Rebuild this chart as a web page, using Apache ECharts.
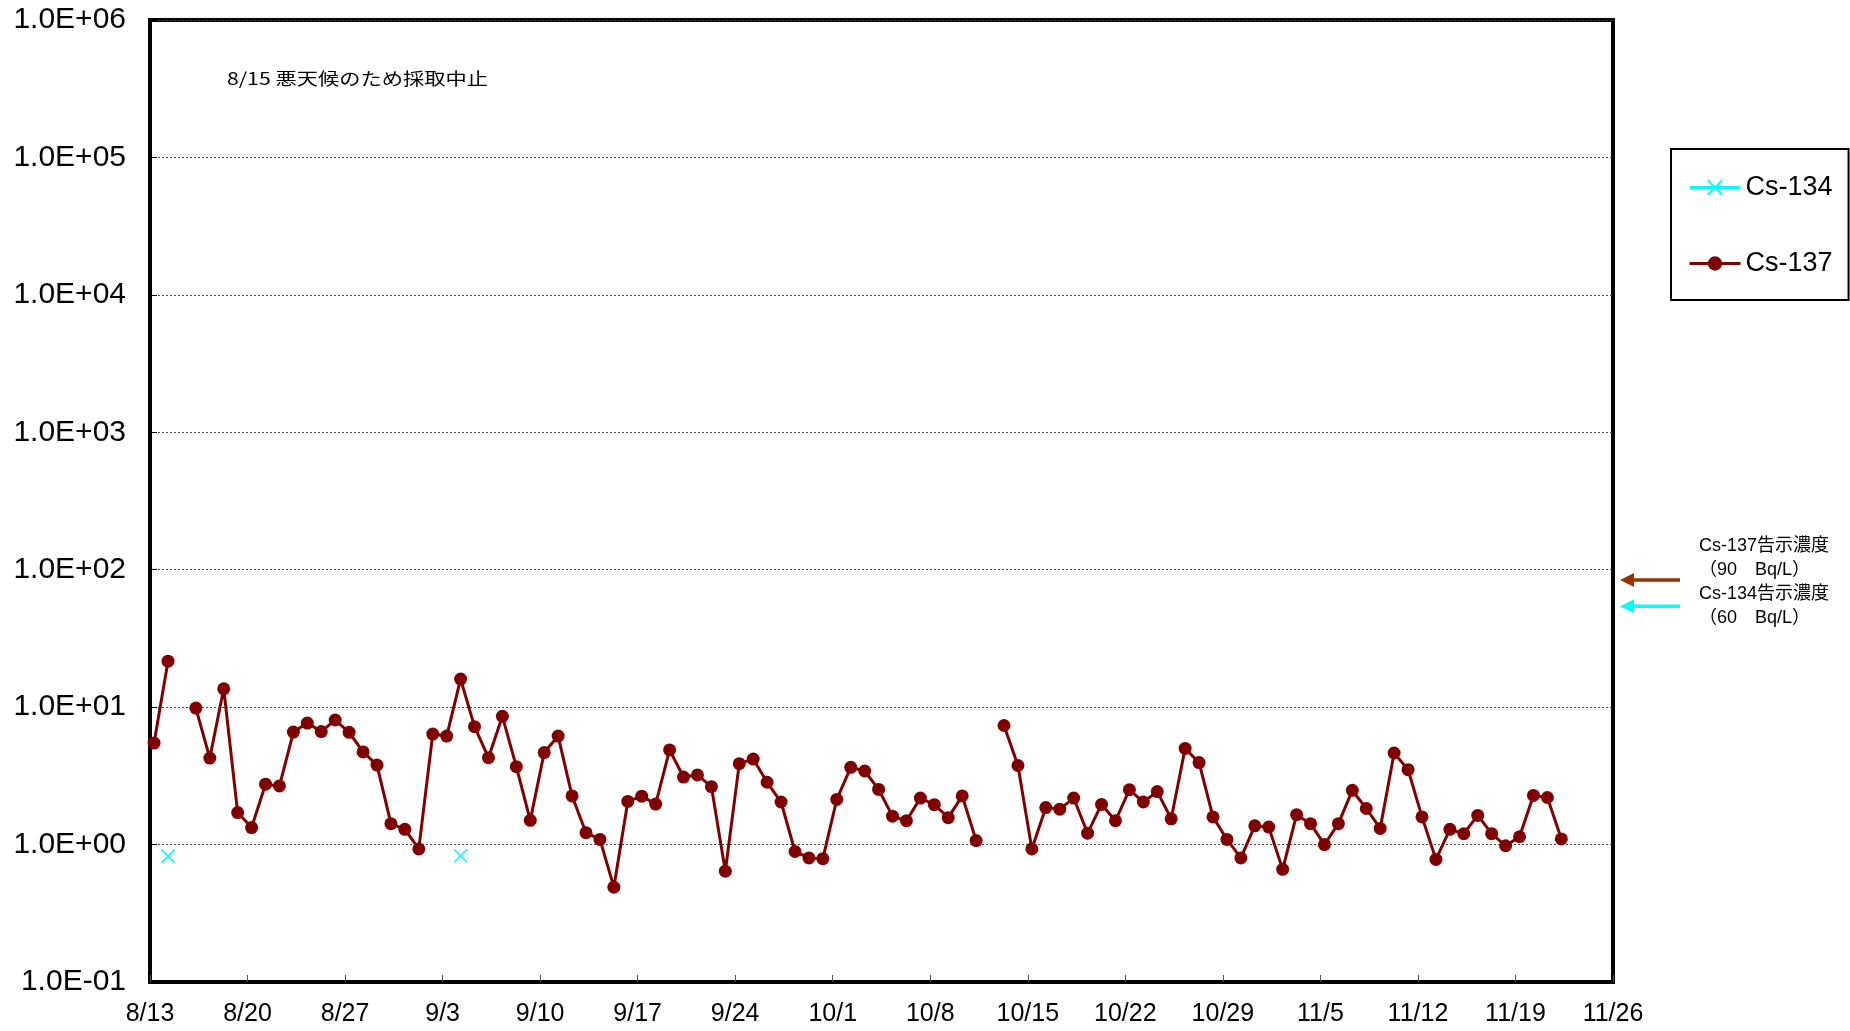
<!DOCTYPE html>
<html>
<head>
<meta charset="utf-8">
<script src="https://cdn.jsdelivr.net/npm/echarts@6/dist/echarts.min.js"></script>
<style>
  html, body { margin: 0; padding: 0; background: #fff; }
  #chart { width: 1850px; height: 1031px; }
</style>
</head>
<body>
<div id="chart"></div>
<script>
// 採取日は 8/13 からの経過日数で表す（null = 欠測）
const xTickLabels = ['8/13', '8/20', '8/27', '9/3', '9/10', '9/17', '9/24', '10/1', '10/8', '10/15', '10/22', '10/29', '11/5', '11/12', '11/19', '11/26']
const yTickLabels = ['1.0E-01', '1.0E+00', '1.0E+01', '1.0E+02', '1.0E+03', '1.0E+04', '1.0E+05', '1.0E+06']

// Cs-137 (Bq/L) 8/13 から毎日
const cs137 = [
  5.48, 21.6, null, 9.85, 4.26, 13.6, 1.71, 1.33, 2.75, 2.67,
  6.59, 7.66, 6.64, 8.06, 6.56, 4.72, 3.79, 1.42, 1.29, 0.93,
  6.37, 6.16, 16.0, 7.21, 4.29, 8.57, 3.69, 1.50, 4.67, 6.16,
  2.26, 1.22, 1.09, 0.49, 2.06, 2.25, 1.97, 4.88, 3.10, 3.21,
  2.64, 0.64, 3.88, 4.19, 2.84, 2.04, 0.89, 0.80, 0.79, 2.13,
  3.65, 3.43, 2.52, 1.61, 1.49, 2.18, 1.95, 1.57, 2.26, 1.07,
  null, 7.35, 3.76, 0.93, 1.86, 1.81, 2.18, 1.21, 1.96, 1.49,
  2.51, 2.04, 2.43, 1.54, 5.01, 3.95, 1.59, 1.09, 0.80, 1.37,
  1.34, 0.66, 1.65, 1.42, 1.00, 1.42, 2.48, 1.83, 1.31, 4.64,
  3.51, 1.59, 0.78, 1.29, 1.20, 1.63, 1.20, 0.98, 1.14, 2.28,
  2.20, 1.10
]

// Cs-134 は検出された日のみ
const cs134Days = [1, 22]
const cs134Values = [0.82, 0.83]

// 告示濃度
const limit137 = 90
const limit134 = 60

const sampleOffset = 7 / 24 // 採取時刻 (7時頃)
const latin = "'Liberation Sans', Arial, sans-serif"
const mixed = "'Liberation Sans', 'Noto Sans CJK JP', sans-serif"

const cs137Data = cs137.map((v, i) => [i + sampleOffset, v])
const cs134Data = cs137.map((_, i) => {
  const k = cs134Days.indexOf(i)
  return [i + sampleOffset, k >= 0 ? cs134Values[k] : null]
})

const chart = echarts.init(document.getElementById('chart'))

chart.setOption({
  animation: false,
  backgroundColor: '#fff',
  grid: {
    left: 150, right: 237, top: 20, bottom: 49,
    show: true, borderColor: '#000', borderWidth: 4
  },
  legend: {
    orient: 'vertical',
    left: 1671, top: 149,
    padding: [25, 16, 23, 17],
    itemGap: 49,
    itemWidth: 51,
    itemHeight: 18,
    borderColor: '#000',
    borderWidth: 2,
    backgroundColor: '#fff',
    selectedMode: false,
    lineStyle: { width: 3 },
    textStyle: { fontSize: 27, color: '#000', fontFamily: latin },
    data: ['Cs-134', 'Cs-137']
  },
  xAxis: {
    type: 'value',
    min: 0, max: 105, interval: 7,
    axisLine: { lineStyle: { color: '#000', width: 4 } },
    axisTick: { inside: true, length: 7, lineStyle: { color: '#555', width: 1 } },
    splitLine: { show: false },
    axisLabel: {
      margin: 20,
      fontSize: 25,
      color: '#000',
      fontFamily: latin,
      formatter: (v) => xTickLabels[Math.round(v / 7)] || ''
    }
  },
  yAxis: {
    type: 'log',
    logBase: 10,
    min: 0.1, max: 1e6,
    splitNumber: 7,
    axisLine: { lineStyle: { color: '#000', width: 4 } },
    axisTick: { inside: true, length: 7, lineStyle: { color: '#000', width: 1 } },
    splitLine: { lineStyle: { color: '#444', type: [2, 2], width: 1 } },
    axisLabel: {
      margin: 24,
      fontSize: 30,
      color: '#000',
      fontFamily: latin,
      formatter: (v) => yTickLabels[Math.round(Math.log10(v)) + 1] || ''
    }
  },
  series: [
    {
      name: 'Cs-134',
      type: 'line',
      data: cs134Data,
      connectNulls: false,
      symbol: 'path://M0,0L10,10M0,10L10,0',
      symbolSize: 13,
      lineStyle: { color: '#00ffff', width: 3 },
      itemStyle: { color: '#00ffff', borderColor: '#00ffff', borderWidth: 1.6 },
      emphasis: { disabled: true }
    },
    {
      name: 'Cs-137',
      type: 'line',
      data: cs137Data,
      connectNulls: false,
      showAllSymbol: true,
      symbol: 'circle',
      symbolSize: 13,
      lineStyle: { color: '#800000', width: 3 },
      itemStyle: { color: '#800000' },
      emphasis: { disabled: true },
      z: 3
    }
  ]
})

// 告示濃度の矢印と注記
const y137 = chart.convertToPixel({ yAxisIndex: 0 }, limit137)
const y134 = chart.convertToPixel({ yAxisIndex: 0 }, limit134)

const arrow = (y, color) => ({
  type: 'group',
  children: [
    { type: 'line', shape: { x1: 1634, y1: y, x2: 1680, y2: y }, style: { stroke: color, lineWidth: 3.5 } },
    { type: 'polygon', shape: { points: [[1620, y], [1634, y - 7], [1634, y + 7]] }, style: { fill: color } }
  ]
})

const note = (x, y, text, size) => ({
  type: 'text',
  x: x, y: y,
  style: { text: text, fontSize: size, fill: '#000', fontFamily: mixed, textVerticalAlign: 'middle' }
})

chart.setOption({
  graphic: [
    arrow(y137 + 4, '#993300'),
    arrow(y134 + 6, '#00ffff'),
    note(1699, 546, 'Cs-137告示濃度', 18),
    note(1699, 570, '（90　Bq/L）', 18),
    note(1699, 594, 'Cs-134告示濃度', 18),
    note(1699, 618, '（60　Bq/L）', 18),
    {
      type: 'text',
      x: 227, y: 79,
      scaleX: 1.25,
      style: {
        text: '8/15 悪天候のため採取中止',
        fontSize: 17,
        fill: '#000',
        fontFamily: "'Noto Sans CJK JP', sans-serif",
        textVerticalAlign: 'middle'
      }
    }
  ]
})
</script>
</body>
</html>
